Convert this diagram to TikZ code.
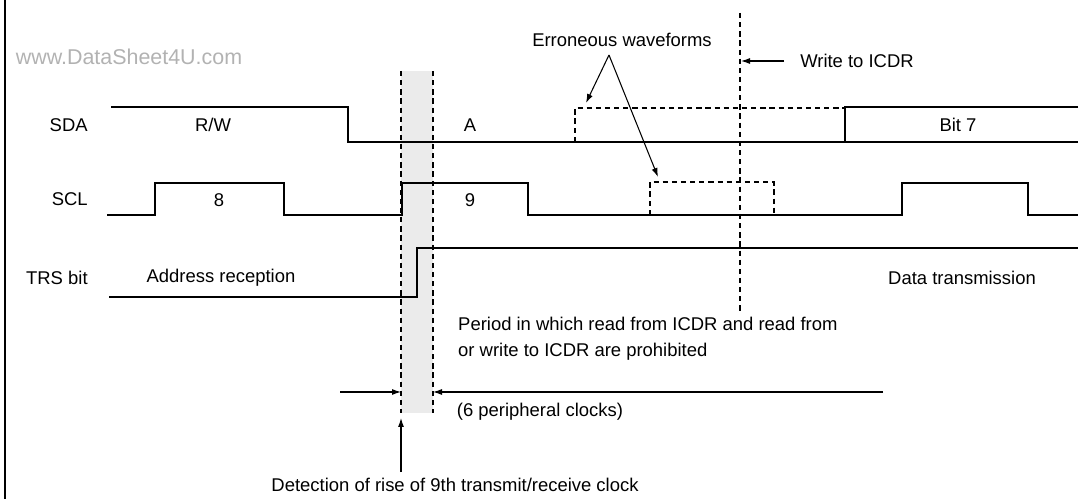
\documentclass[tikz,border=0pt]{standalone}
\usepackage{fontspec}
\setmainfont{Liberation Sans}
\usetikzlibrary{arrows.meta,positioning}

\begin{document}
\begin{tikzpicture}[
  x=0.02cm, y=-0.02cm,
  font=\fontsize{10.5}{13}\selectfont,
  lbl/.style={anchor=east, inner sep=0pt},
  wave/.style={line width=1.1pt, line join=miter},
  err/.style={line width=0.6pt, dash pattern=on 3pt off 2.2pt},
  arr/.style={-{Latex[length=1.8mm, width=1.2mm]}, line width=0.6pt}
]
\useasboundingbox (0,0) rectangle (1090,499);
\draw[line width=1.1pt] (5,0) -- (5,499);
\node[text=black!30, font=\fontsize{12.2}{14}\selectfont] (wm) at (129,57) {www.DataSheet4U.com};

% prohibited band
\fill[black!8] (401,71) rectangle (433,413);
\draw[err] (401,71) -- (401,413);
\draw[err] (433,71) -- (433,413);
\draw[err] (740,13) -- (740,313);

% signal names
\node[lbl] (sda) at (88,125) {SDA};
\node[lbl] (scl) at (88,199) {SCL};
\node[lbl] (trs) at (88,278) {TRS bit};

% SDA
\draw[wave] (111,107) -- (348,107) -- (348,142) -- (1078,142);
\draw[wave] (1078,107) -- (845,107) -- (845,142);
\draw[err] (575,142) -- (575,108) -- (845,108);
\node (rw) at (213,125) {R/W};
\node (ack) at (470,125) {A};
\node (bit7) at (958,125) {Bit 7};

% SCL
\draw[wave] (107,215) -- (155,215) -- (155,183) -- (284,183) -- (284,215)
  -- (402,215) -- (402,183) -- (528,183) -- (528,215) -- (902,215)
  -- (902,183) -- (1028,183) -- (1028,215) -- (1078,215);
\draw[err] (650,215) -- (650,182) -- (774,182) -- (774,215);
\node (clk8) at (219,200) {8};
\node (clk9) at (470,200) {9};

% TRS bit
\draw[wave] (109,297) -- (417,297) -- (417,248) -- (1078,248);
\node (addr) at (221,278) {Address reception};
\node (data) at (962,278) {Data transmission};

% annotations
\node (errtxt) at (622,40) {Erroneous waveforms};
\coordinate (errtip) at (609,55);
\coordinate (errsda) at (586,103);
\coordinate (errscl) at (658,177);
\draw[arr] (errtip) -- (errsda);
\draw[arr] (errtip) -- (errscl);

\node (wtxt) at (857,61) {Write to ICDR};
\coordinate (wline) at (741,61);
\draw[arr, shorten <=0.2cm] (wtxt.west) -- (wline);

\node[align=left, anchor=west, font=\fontsize{10.5}{14.7}\selectfont] (period) at (452,339)
  {Period in which read from ICDR and read from\\ or write to ICDR are prohibited};
\coordinate (dimL) at (340,392);
\coordinate (dimR) at (883,392);
\coordinate (bandL) at (401,392);
\coordinate (bandR) at (433,392);
\draw[arr] (dimL) -- (bandL);
\draw[arr] (dimR) -- (bandR);
\node (pclk) at (540,412) {(6 peripheral clocks)};

\node (det) at (455,485) {Detection of rise of 9th transmit/receive clock};
\coordinate (detup) at (401,418);
\draw[arr] (det.north -| detup) -- (detup);
\end{tikzpicture}
\end{document}
